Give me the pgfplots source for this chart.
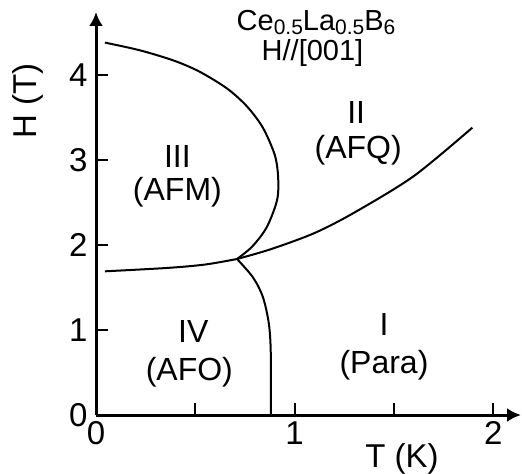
\documentclass[border=0pt]{standalone}
\usepackage{pgfplots}
\pgfplotsset{compat=1.18}
\usepackage{fontspec}
\setmainfont{Liberation Sans}
\usetikzlibrary{arrows.meta}
\newcommand{\sub}[1]{\raisebox{-0.25ex}{\fontsize{10.5}{11}\selectfont #1}}
\begin{document}
\begin{tikzpicture}
\begin{axis}[
  at={(0,0)}, anchor=south west,
  scale only axis, width=212.5pt, height=201.5pt,
  xmin=0, xmax=2.14, ymin=0, ymax=4.74,
  axis lines=left,
  axis line style={line width=1.5pt, -{Latex[length=7pt,width=7pt]}},
  tick align=inside,
  major tick length=6pt,
  tick style={line width=1pt, black},
  xtick={0,0.5,1,1.5,2}, xticklabels={0,,1,,2},
  ytick={0,1,2,3,4},
  /pgf/number format/assume math mode=true,
  tick label style={font=\fontsize{16.5}{18}\selectfont},
  xticklabel style={inner sep=2pt, yshift=-1pt},
  yticklabel style={inner sep=2pt, xshift=-2pt},
  xlabel={T (K)}, ylabel={H (T)},
  label style={font=\fontsize{16.5}{18}\selectfont},
  x label style={at={(axis description cs:0.72,0)}, anchor=north, inner sep=0pt, yshift=-14pt},
  y label style={at={(axis description cs:0,0.78)}, anchor=center, yshift=34pt},
  clip=false,
]
\addplot[black, line width=1pt, smooth] coordinates {
 (0.045,4.38) (0.22,4.29) (0.39,4.17) (0.52,4.04) (0.66,3.84) (0.76,3.63)
 (0.84,3.38) (0.90,3.06) (0.917,2.80) (0.912,2.53) (0.86,2.21) (0.786,1.98)
 (0.71,1.835)};
\addplot[black, line width=1pt, smooth] coordinates {
 (0.045,1.69) (0.36,1.73) (0.55,1.77) (0.71,1.835)};
\addplot[black, line width=1pt, smooth] coordinates {
 (0.71,1.835) (0.88,1.95) (1.1,2.14) (1.3,2.38) (1.6,2.81) (1.895,3.38)};
\addplot[black, line width=1pt, smooth] coordinates {
 (0.71,1.835) (0.79,1.62) (0.84,1.39) (0.87,1.08) (0.88,0.73) (0.88,0.0)};
\begin{scope}[every node/.style={font=\fontsize{14.5}{16}\selectfont, inner sep=0pt}]
\node[anchor=base] at (axis cs:1.108,4.52) {Ce\sub{0.5}La\sub{0.5}B\sub{6}};
\node[anchor=base] at (axis cs:1.09,4.165) {H//[001]};
\end{scope}
\begin{scope}[every node/.style={font=\fontsize{16}{18}\selectfont, inner sep=0pt}]
\node at (axis cs:1.31,3.56) {II};
\node at (axis cs:1.32,3.12) {(AFQ)};
\node at (axis cs:0.41,3.04) {III};
\node at (axis cs:0.41,2.62) {(AFM)};
\node at (axis cs:0.49,0.98) {IV};
\node at (axis cs:0.47,0.50) {(AFO)};
\node at (axis cs:1.45,1.07) {I};
\node at (axis cs:1.45,0.59) {(Para)};
\end{scope}
\end{axis}
\pgfresetboundingbox
\path (-48pt,-29pt) rectangle (213pt,207.5pt);
\end{tikzpicture}
\end{document}
